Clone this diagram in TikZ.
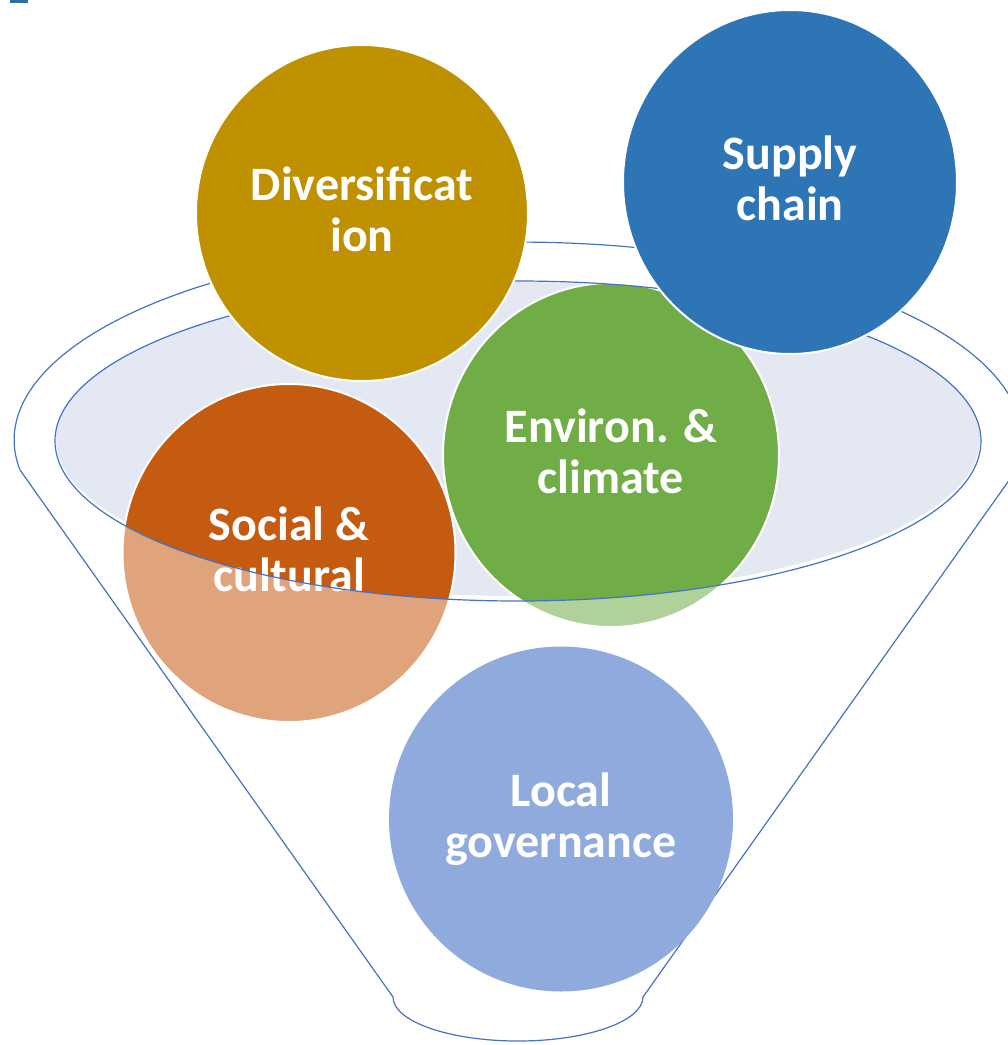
\documentclass[tikz,border=0pt]{standalone}
\usepackage{fontspec}
\newfontfamily\topicfont{Carlito}
\usepackage{tikz}
\usetikzlibrary{shapes.geometric}
\usepackage{xcolor}
\definecolor{divcol}{HTML}{BF9000}
\definecolor{supcol}{HTML}{2E75B6}
\definecolor{envcol}{HTML}{70AD47}
\definecolor{soccol}{HTML}{C55A11}
\definecolor{govcol}{HTML}{8FAADC}
\definecolor{mouthcol}{HTML}{E4E8F3}
\definecolor{linecol}{HTML}{4472C4}
\definecolor{markcol}{HTML}{2E6DA4}
\tikzstyle{topic}=[ellipse,draw=white,line width=2pt,inner sep=0pt,text=white,align=center,
  text depth=8pt,font=\topicfont\bfseries\fontsize{48}{51}\selectfont]
\tikzstyle{funnel line}=[draw=linecol,line width=1.2pt]
\tikzstyle{funnel glass}=[fill=white,fill opacity=0.45,even odd rule]

\begin{document}
\begin{tikzpicture}[x=1pt,y=-1pt,line cap=round]
  \useasboundingbox (0,0) rectangle (1008,1045);
  \clip (0,0) rectangle (1008,1045);
  \fill[markcol] (10,0) rectangle (28,3);

  \coordinate (mouth) at (518,441);
  \fill[mouthcol] (518,439) ellipse[x radius=462,y radius=157];

  % circles inside the funnel
  \node[topic,fill=envcol,minimum width=336pt,minimum height=344pt] (env) at (611,455) {Environ. \&\\climate};
  \node[topic,fill=soccol,minimum width=333pt,minimum height=338pt] (social) at (289,553) {Social \&\\cultural};

  % funnel body and rim
  \fill[funnel glass] (20,470) arc[start angle=171.3,end angle=368.7,x radius=504,y radius=198]
    -- (643,997) arc[start angle=0,end angle=180,x radius=125,y radius=44] -- cycle
    (mouth) ellipse[x radius=463,y radius=160];
  \draw[funnel line] (20,470) arc[start angle=171.3,end angle=368.7,x radius=504,y radius=198]
    -- (643,997) arc[start angle=0,end angle=180,x radius=125,y radius=44] -- cycle;
  \draw[funnel line] (mouth) ellipse[x radius=463,y radius=160];

  % circles on top
  \node[topic,fill=divcol,minimum width=332pt,minimum height=336pt] (div) at (362,213) {Diversificat\\ion};
  \node[topic,fill=supcol,minimum width=334pt,minimum height=344pt] (supply) at (790,182) {Supply\\chain};
  \node[topic,fill=govcol,draw=none,minimum width=344pt,minimum height=345pt] (gov) at (561,819) {Local\\governance};
\end{tikzpicture}
\end{document}
